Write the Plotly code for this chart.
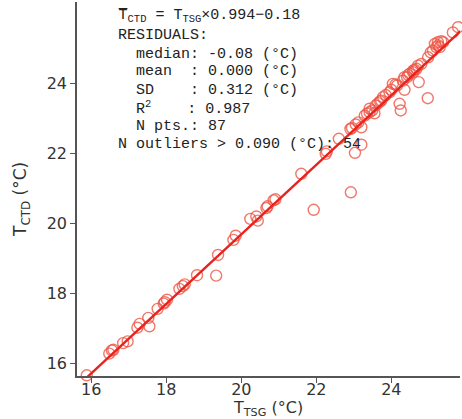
import plotly.graph_objects as go

# Ship thermosalinograph temperature vs CTD temperature (°C)
t_tsg = [15.88, 16.48, 16.59, 16.85, 16.97, 17.23, 17.29, 17.52, 17.55, 17.77,
         17.96, 18.02, 18.35, 18.49, 18.44, 18.82, 19.33, 19.38, 19.79, 19.85,
         20.24, 20.40, 20.44, 20.67, 20.86, 20.91, 21.60, 21.93, 22.25, 22.28,
         22.60, 22.92, 22.91, 23.05, 23.03, 23.20, 23.20, 23.29, 23.42, 23.49,
         23.55, 23.42, 23.58, 23.73, 23.78, 23.95, 24.00, 24.04, 24.11, 24.22,
         24.25, 24.35, 24.31, 24.35, 24.42, 24.49, 24.58, 24.58, 24.67, 24.71,
         24.73, 24.80, 24.97, 24.98, 25.11, 25.16, 25.24, 25.38, 25.29, 25.64,
         25.78, 23.35, 23.65, 23.85, 24.15, 24.45, 24.62, 25.05, 25.20, 25.25,
         25.33, 22.95, 23.12, 17.93, 20.70, 16.55, 23.70]
t_ctd = [15.67, 16.29, 16.40, 16.59, 16.64, 17.03, 17.14, 17.31, 17.07, 17.57,
         17.76, 17.83, 18.14, 18.27, 18.22, 18.53, 18.52, 19.11, 19.54, 19.66,
         20.14, 20.21, 20.09, 20.45, 20.67, 20.70, 21.43, 20.40, 22.00, 22.07,
         22.43, 20.90, 22.71, 22.84, 22.03, 22.26, 22.76, 23.09, 23.19, 23.24,
         23.16, 23.29, 23.38, 23.52, 23.62, 23.76, 23.83, 24.00, 23.98, 23.43,
         23.24, 23.83, 24.09, 24.19, 24.19, 24.29, 24.33, 24.38, 24.43, 24.52,
         24.05, 24.57, 23.59, 24.76, 24.95, 25.14, 25.19, 25.19, 25.05, 25.47,
         25.62, 23.15, 23.45, 23.68, 23.95, 24.25, 24.40, 24.90, 25.05, 25.10,
         25.22, 22.74, 22.90, 17.72, 20.50, 16.38, 23.50]

slope = 0.994
intercept = -0.18
fit_x = [15.5, 26.0]
fit_y = [slope * v + intercept for v in fit_x]

stats_lines = [
    "T\u0305<sub>CTD</sub> = T<sub>TSG</sub>×0.994−0.18",
    "RESIDUALS:",
    "\u00a0\u00a0median: -0.08 (°C)",
    "\u00a0\u00a0mean\u00a0\u00a0: 0.000 (°C)",
    "\u00a0\u00a0SD\u00a0\u00a0\u00a0\u00a0: 0.312 (°C)",
    "\u00a0\u00a0R<sup>2</sup>\u00a0\u00a0\u00a0\u00a0: 0.987",
    "\u00a0\u00a0N pts.: 87",
    "N outliers > 0.090 (°C): 54",
]

fig = go.Figure()
fig.add_trace(go.Scatter(
    x=t_tsg, y=t_ctd, mode="markers",
    marker=dict(symbol="circle-open", size=11, color="rgba(238,85,70,0.8)",
                line=dict(width=1.4, color="rgba(238,85,70,0.8)")),
    showlegend=False, cliponaxis=False))
fig.add_trace(go.Scatter(
    x=fit_x, y=fit_y, mode="lines",
    line=dict(color="#e8221c", width=2.4), showlegend=False))

W, H = 462, 419
plot_top, plot_bottom, plot_left, plot_right = 2, 376, 77, 460


def px_to_paper(px, py):
    return ((px - plot_left) / (plot_right - plot_left),
            (plot_bottom - py) / (plot_bottom - plot_top))


line_px = [16, 35, 54, 72, 90, 108, 126, 144]
for txt, py in zip(stats_lines, line_px):
    ax, ay = px_to_paper(116, py)
    fig.add_annotation(
        text=txt, xref="paper", yref="paper", x=ax, y=ay,
        xanchor="left", yanchor="middle", showarrow=False,
        font=dict(family="Liberation Mono", size=15, color="#222222"))

title_font = dict(family="DejaVu Sans", size=16, color="#333333")
tx, ty = px_to_paper(268, 409)
fig.add_annotation(text="T<sub>TSG</sub> (°C)", xref="paper", yref="paper",
                   x=tx, y=ty, xanchor="center", yanchor="middle",
                   showarrow=False, font=title_font)
tx, ty = px_to_paper(21, 200)
fig.add_annotation(text="T<sub>CTD</sub> (°C)", xref="paper", yref="paper",
                   x=tx, y=ty, xanchor="center", yanchor="middle",
                   textangle=-90, showarrow=False,
                   font=dict(family="DejaVu Sans", size=17, color="#333333"))

axis_common = dict(
    showgrid=False, zeroline=False, showline=True, linecolor="#555555",
    linewidth=1.6, ticks="outside", ticklen=5, tickwidth=1.4,
    tickcolor="#555555", mirror=False, automargin=False,
    tickfont=dict(family="DejaVu Sans", size=16, color="#333333"),
)

fig.update_layout(
    width=W, height=H,
    margin=dict(l=plot_left, r=W - plot_right, t=plot_top, b=H - plot_bottom),
    paper_bgcolor="white", plot_bgcolor="white",
    xaxis=dict(range=[15.62, 25.83], tickvals=[16, 18, 20, 22, 24],
               ticklabelstandoff=-7, **axis_common),
    yaxis=dict(range=[15.65, 26.34], tickvals=[16, 18, 20, 22, 24], **axis_common),
)

fig.write_html("out.html")
